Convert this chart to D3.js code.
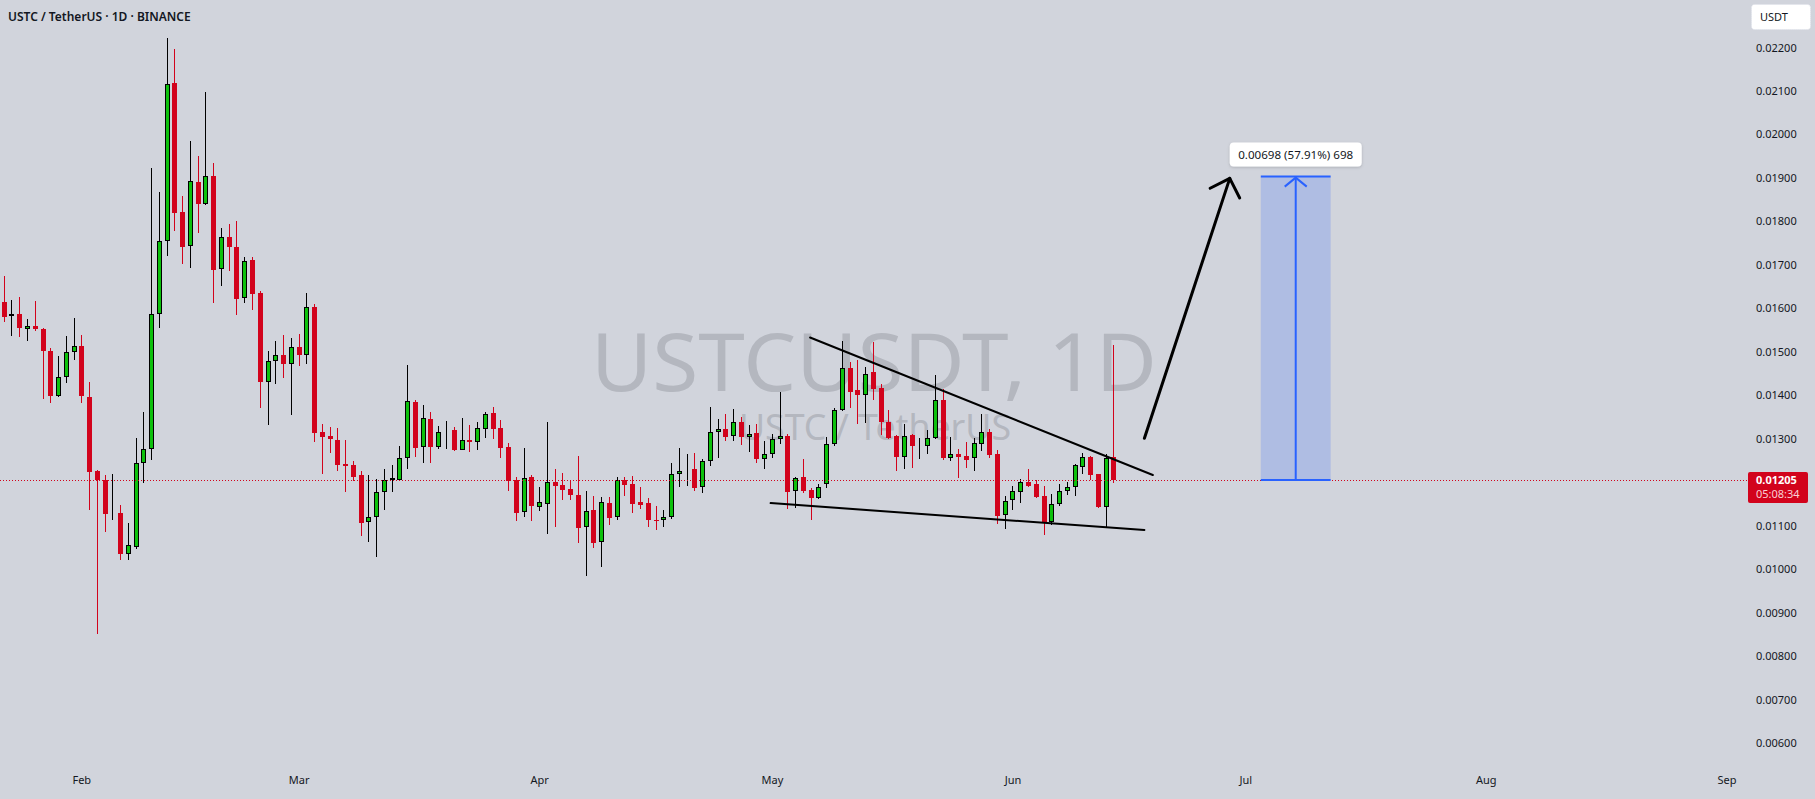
<!DOCTYPE html>
<html><head><meta charset="utf-8">
<script src="https://cdn.jsdelivr.net/npm/d3@7"></script>
<style>html,body{margin:0;padding:0;background:#d1d4dc;overflow:hidden}</style>
</head><body><svg id="c" width="1815" height="799"></svg>
<script>
const dates = ["2025-01-22","2025-01-23","2025-01-24","2025-01-25","2025-01-26","2025-01-27","2025-01-28","2025-01-29","2025-01-30","2025-01-31",
"2025-02-01","2025-02-02","2025-02-03","2025-02-04","2025-02-05","2025-02-06","2025-02-07","2025-02-08","2025-02-09","2025-02-10","2025-02-11","2025-02-12","2025-02-13","2025-02-14","2025-02-15","2025-02-16","2025-02-17","2025-02-18","2025-02-19","2025-02-20","2025-02-21","2025-02-22","2025-02-23","2025-02-24","2025-02-25","2025-02-26","2025-02-27","2025-02-28",
"2025-03-01","2025-03-02","2025-03-03","2025-03-04","2025-03-05","2025-03-06","2025-03-07","2025-03-08","2025-03-09","2025-03-10","2025-03-11","2025-03-12","2025-03-13","2025-03-14","2025-03-15","2025-03-16","2025-03-17","2025-03-18","2025-03-19","2025-03-20","2025-03-21","2025-03-22","2025-03-23","2025-03-24","2025-03-25","2025-03-26","2025-03-27","2025-03-28","2025-03-29","2025-03-30","2025-03-31",
"2025-04-01","2025-04-02","2025-04-03","2025-04-04","2025-04-05","2025-04-06","2025-04-07","2025-04-08","2025-04-09","2025-04-10","2025-04-11","2025-04-12","2025-04-13","2025-04-14","2025-04-15","2025-04-16","2025-04-17","2025-04-18","2025-04-19","2025-04-20","2025-04-21","2025-04-22","2025-04-23","2025-04-24","2025-04-25","2025-04-26","2025-04-27","2025-04-28","2025-04-29","2025-04-30",
"2025-05-01","2025-05-02","2025-05-03","2025-05-04","2025-05-05","2025-05-06","2025-05-07","2025-05-08","2025-05-09","2025-05-10","2025-05-11","2025-05-12","2025-05-13","2025-05-14","2025-05-15","2025-05-16","2025-05-17","2025-05-18","2025-05-19","2025-05-20","2025-05-21","2025-05-22","2025-05-23","2025-05-24","2025-05-25","2025-05-26","2025-05-27","2025-05-28","2025-05-29","2025-05-30","2025-05-31",
"2025-06-01","2025-06-02","2025-06-03","2025-06-04","2025-06-05","2025-06-06","2025-06-07","2025-06-08","2025-06-09","2025-06-10","2025-06-11","2025-06-12","2025-06-13","2025-06-14"];

const open = [0.01615,0.01582,0.01587,0.01552,0.01559,0.01553,0.01502,0.01399,0.01442,0.01499,
0.01514,0.01397,0.01226,0.01205,0.01129,0.01129,0.01036,0.01051,0.01245,0.01276,0.01586,0.01756,0.02118,0.01822,0.01743,0.01890,0.01841,0.01904,0.01690,0.01763,0.01741,0.01623,0.01711,0.01635,0.01430,0.01478,0.01492,0.01472,
0.01512,0.01493,0.01602,0.01315,0.01306,0.01297,0.01243,0.01239,0.01216,0.01108,0.01121,0.01177,0.01206,0.01206,0.01255,0.01384,0.01280,0.01345,0.01282,0.01317,0.01320,0.01275,0.01296,0.01293,0.01323,0.01359,0.01325,0.01281,0.01205,0.01131,0.01211,
0.01144,0.01151,0.01200,0.011935,0.01184,0.011705,0.01096,0.01136,0.01062,0.01152,0.01121,0.01204,0.01196,0.01154,0.01152,0.01114,0.01112,0.01121,0.01218,0.01229,0.01230,0.01190,0.01248,0.01315,0.01322,0.01307,0.01338,0.01305,0.01313,0.01254,
0.01266,0.01299,0.01306,0.01179,0.01211,0.01182,0.01163,0.01195,0.01289,0.01366,0.01462,0.01412,0.01401,0.01453,0.01416,0.01338,0.01306,0.01259,0.013085,0.01285,0.01284,0.01301,0.01389,0.01255,0.01266,0.01260,0.01255,0.01288,0.01315,0.01264,0.01124,
0.01158,0.01177,0.01200,0.01196,0.01168,0.01109,0.01149,0.01179,0.01188,0.01236,0.01259,0.01219,0.01144,0.01258];

const high = [0.01675,0.01619,0.01626,0.01575,0.01617,0.01555,0.01508,0.01491,0.01536,0.01578,
0.01539,0.01431,0.01228,0.01217,0.01219,0.01148,0.01106,0.01301,0.01361,0.01923,0.01867,0.02222,0.02197,0.01858,0.01984,0.01950,0.02097,0.01934,0.01784,0.01793,0.01800,0.01719,0.01718,0.01640,0.01501,0.01524,0.01539,0.01531,
0.01540,0.01635,0.01610,0.01334,0.01327,0.01325,0.01297,0.01249,0.01226,0.01216,0.01207,0.01230,0.01239,0.01283,0.01470,0.01389,0.013775,0.01361,0.01329,0.01341,0.01327,0.01348,0.01331,0.01338,0.01361,0.01373,0.01343,0.01290,0.01212,0.01279,0.01216,
0.01189,0.01338,0.01230,0.01222,0.01205,0.01260,0.01180,0.01168,0.01166,0.01166,0.01212,0.01212,0.01214,0.01189,0.01164,0.01145,0.01136,0.01244,0.01279,0.01265,0.01267,0.01253,0.01372,0.01345,0.01358,0.01368,0.01349,0.01331,0.01333,0.01295,
0.01312,0.01407,0.01312,0.01213,0.01253,0.01187,0.01197,0.01304,0.01370,0.01525,0.01476,0.01480,0.01466,0.01522,0.01427,0.01366,0.01308,0.01335,0.01311,0.01301,0.01320,0.01447,0.01414,0.01303,0.01276,0.01292,0.01302,0.01358,0.01322,0.01274,0.01168,
0.01191,0.01207,0.01230,0.01206,0.01191,0.01173,0.01197,0.01200,0.01243,0.01267,0.01261,0.01220,0.01266,0.01516];

const low = [0.01569,0.01537,0.01535,0.01525,0.01549,0.01392,0.01383,0.01397,0.01429,0.01481,
0.01383,0.01137,0.00850,0.01085,0.01114,0.01021,0.01020,0.01047,0.01199,0.01250,0.01555,0.01720,0.01779,0.01701,0.01692,0.01774,0.01838,0.01613,0.01652,0.01687,0.01585,0.01613,0.01597,0.01371,0.01332,0.01427,0.01440,0.01355,
0.01468,0.01471,0.01293,0.01218,0.01268,0.01226,0.01177,0.01203,0.01076,0.01063,0.01029,0.01137,0.01177,0.01205,0.01231,0.01259,0.01245,0.01245,0.01276,0.01276,0.01271,0.01274,0.01269,0.01274,0.01302,0.01299,0.01256,0.01180,0.01111,0.01119,0.01111,
0.01134,0.01081,0.01098,0.01159,0.01160,0.01061,0.00985,0.01049,0.01006,0.01102,0.01114,0.01169,0.01129,0.01139,0.01097,0.01091,0.01098,0.01116,0.01190,0.01191,0.01180,0.01176,0.01237,0.01256,0.01295,0.01295,0.01286,0.01270,0.01245,0.01231,
0.01256,0.01289,0.01138,0.01140,0.01176,0.01114,0.01161,0.01187,0.01284,0.01363,0.01371,0.01335,0.01337,0.01389,0.01308,0.01300,0.01226,0.01231,0.01233,0.01254,0.01265,0.01299,0.01251,0.01249,0.01210,0.01233,0.01226,0.01272,0.01256,0.01105,0.01093,
0.01137,0.01153,0.01190,0.01163,0.01079,0.01101,0.01146,0.01170,0.01169,0.01220,0.01206,0.01141,0.01094,0.01198];

const close = [0.01581,0.01587,0.01554,0.01559,0.01552,0.01501,0.01399,0.01441,0.01499,0.01514,
0.01399,0.01224,0.01204,0.01128,0.01129,0.01036,0.01055,0.01245,0.01276,0.01586,0.01756,0.02115,0.01820,0.01740,0.01892,0.01841,0.01904,0.01689,0.01765,0.01740,0.01622,0.01708,0.01633,0.01431,0.01478,0.01492,0.01472,0.01512,
0.01493,0.01602,0.01314,0.01305,0.01299,0.01240,0.01238,0.01213,0.01107,0.01121,0.01177,0.01206,0.01210,0.01255,0.01386,0.01279,0.01347,0.01282,0.01315,0.01318,0.01274,0.01296,0.01292,0.01324,0.01356,0.01323,0.01279,0.01203,0.01130,0.01209,0.01146,
0.01154,0.01200,0.01192,0.01183,0.01171,0.01095,0.01133,0.01061,0.01154,0.01118,0.01204,0.01194,0.01151,0.01148,0.01113,0.01112,0.01121,0.01218,0.01225,0.01230,0.01187,0.01248,0.01315,0.01322,0.01305,0.01338,0.01305,0.01312,0.01254,0.01266,
0.01299,0.01306,0.01178,0.01209,0.01180,0.01164,0.01190,0.01287,0.01365,0.01462,0.01408,0.01401,0.01450,0.01415,0.01338,0.01302,0.01259,0.01307,0.01284,0.01286,0.01301,0.01389,0.01256,0.01266,0.01259,0.01251,0.01291,0.01315,0.01263,0.01123,0.01157,
0.01179,0.01200,0.01192,0.01167,0.01108,0.01149,0.01179,0.01188,0.01239,0.01259,0.01217,0.01144,0.01255,0.01205];

const priceTicks = [0.006,0.007,0.008,0.009,0.010,0.011,0.012,0.013,0.014,0.015,0.016,0.017,0.018,0.019,0.020,0.021,0.022];
const monthTicks = ["2025-02-01","2025-03-01","2025-04-01","2025-05-01","2025-06-01","2025-07-01","2025-08-01","2025-09-01"];
const monthLabels = ["Feb","Mar","Apr","May","Jun","Jul","Aug","Sep"];

const lastPrice = 0.01205;
const countdown = "05:08:34";
const title = "USTC / TetherUS · 1D · BINANCE";
const watermark1 = "USTCUSDT, 1D";
const watermark2 = "USTC / TetherUS";
const currency = "USDT";

const upperTrend = [["2025-05-05T22:00Z",0.01533],["2025-06-19T02:00Z",0.012165]];
const lowerTrend = [["2025-04-30T20:00Z",0.01152],["2025-06-18T00:00Z",0.01090]];
const arrowPath = [["2025-06-18T00:00Z",0.01301],["2025-06-29T00:00Z",0.01899]];
const rangeDates = ["2025-07-03","2025-07-12"];
const rangePrices = [0.01205,0.01903];
const rangeLabel = "0.00698 (57.91%) 698";

const UP = "#0dc10d", DOWN = "#d2031c", INK = "#131722";
const FONT = "'Noto Sans', 'Open Sans', sans-serif";

const svg = d3.select("#c");
const W = 1815, H = 799;
const pd = s => new Date(s.length === 10 ? s + "T00:00:00Z" : s);

const xS = d3.scaleUtc().domain([pd("2025-02-01"), pd("2025-09-01")]).range([81.3, 1726.4]);
const yS = d3.scaleLinear().domain([0.006, 0.022]).range([743.05, 47.5]);

svg.append("rect").attr("width", W).attr("height", H).attr("fill", "#d1d4dc");

// watermark
svg.append("text").attr("x", 874).attr("y", 391).attr("text-anchor", "middle")
  .attr("font-family", FONT).attr("font-size", 80).attr("fill", "#b4b7bf")
  .attr("textLength", 566).attr("lengthAdjust", "spacingAndGlyphs").text(watermark1);
svg.append("text").attr("x", 875).attr("y", 440).attr("text-anchor", "middle")
  .attr("font-family", FONT).attr("font-size", 36).attr("fill", "#b4b7bf")
  .attr("textLength", 272).attr("lengthAdjust", "spacingAndGlyphs").text(watermark2);

// candles
const bars = dates.map((d, i) => ({d: pd(d), o: open[i], h: high[i], l: low[i], c: close[i]}));
const g = svg.append("g");
bars.forEach(b => {
  const cx = Math.round(xS(b.d));
  const up = b.c >= b.o;
  const col = up ? UP : DOWN;
  const wickCol = up ? "#000" : DOWN;
  g.append("line").attr("x1", cx + 0.5).attr("x2", cx + 0.5)
    .attr("y1", Math.round(yS(b.h))).attr("y2", Math.round(yS(b.l)))
    .attr("stroke", wickCol).attr("stroke-width", 1);
  const top = Math.round(yS(Math.max(b.o, b.c)));
  const bot = Math.round(yS(Math.min(b.o, b.c)));
  if (up) {
    const hgt = Math.max(bot - top - 1, 0);
    g.append("rect").attr("x", cx - 1.5).attr("y", top + 0.5).attr("width", 4).attr("height", hgt)
      .attr("fill", col).attr("stroke", "#000").attr("stroke-width", 1);
  } else {
    g.append("rect").attr("x", cx - 2).attr("y", top).attr("width", 5).attr("height", Math.max(bot - top, 1))
      .attr("fill", col);
  }
});

// last price dotted line
const ly = Math.round(yS(lastPrice)) + 0.5;
svg.append("line").attr("x1", 0).attr("x2", 1748).attr("y1", ly).attr("y2", ly)
  .attr("stroke", DOWN).attr("stroke-width", 1).attr("stroke-dasharray", "1,2");

// trend lines
const lineGen = d3.line().x(p => xS(pd(p[0]))).y(p => yS(p[1]));
[upperTrend, lowerTrend].forEach(t => {
  svg.append("path").attr("d", lineGen(t)).attr("stroke", "#000").attr("stroke-width", 2)
    .attr("fill", "none").attr("stroke-linecap", "round");
});

// arrow
svg.append("path").attr("d", lineGen(arrowPath)).attr("stroke", "#000").attr("stroke-width", 3)
  .attr("fill", "none").attr("stroke-linecap", "round");
{
  const x0 = xS(pd(arrowPath[0][0])), y0 = yS(arrowPath[0][1]);
  const x1 = xS(pd(arrowPath[1][0])), y1 = yS(arrowPath[1][1]);
  const ang = Math.atan2(y0 - y1, x0 - x1);
  const L = 22, a = Math.PI / 4;
  const p1 = [x1 + L * Math.cos(ang + a), y1 + L * Math.sin(ang + a)];
  const p2 = [x1 + L * Math.cos(ang - a), y1 + L * Math.sin(ang - a)];
  svg.append("path").attr("d", `M${p1[0]},${p1[1]}L${x1},${y1}L${p2[0]},${p2[1]}`)
    .attr("stroke", "#000").attr("stroke-width", 3).attr("fill", "none")
    .attr("stroke-linecap", "round").attr("stroke-linejoin", "round");
}

// price range tool
{
  const rx0 = xS(pd(rangeDates[0])), rx1 = xS(pd(rangeDates[1]));
  const ry0 = yS(rangePrices[0]), ry1 = yS(rangePrices[1]);
  const BLUE = "#2962ff";
  svg.append("rect").attr("x", rx0).attr("y", ry1).attr("width", rx1 - rx0).attr("height", ry0 - ry1)
    .attr("fill", BLUE).attr("fill-opacity", 0.2);
  svg.append("line").attr("x1", rx0).attr("x2", rx1).attr("y1", ry1).attr("y2", ry1).attr("stroke", BLUE).attr("stroke-width", 2);
  svg.append("line").attr("x1", rx0).attr("x2", rx1).attr("y1", ry0).attr("y2", ry0).attr("stroke", BLUE).attr("stroke-width", 2);
  const mx = (rx0 + rx1) / 2;
  svg.append("line").attr("x1", mx).attr("x2", mx).attr("y1", ry0).attr("y2", ry1 + 1).attr("stroke", BLUE).attr("stroke-width", 2);
  svg.append("path").attr("d", `M${mx - 11},${ry1 + 10}L${mx},${ry1 + 1}L${mx + 11},${ry1 + 10}`)
    .attr("stroke", BLUE).attr("stroke-width", 2).attr("fill", "none");
  const defs = svg.append("defs");
  const f = defs.append("filter").attr("id", "sh").attr("x", "-20%").attr("y", "-40%").attr("width", "140%").attr("height", "180%");
  f.append("feDropShadow").attr("dx", 0).attr("dy", 1).attr("stdDeviation", 1.5).attr("flood-color", "#000").attr("flood-opacity", 0.18);
  const bw = 132, bh = 24;
  svg.append("rect").attr("x", mx - bw / 2).attr("y", ry1 - 10 - bh).attr("width", bw).attr("height", bh)
    .attr("rx", 4).attr("fill", "#fff").attr("filter", "url(#sh)");
  svg.append("text").attr("x", mx).attr("y", ry1 - 10 - bh / 2).attr("dy", "0.35em").attr("text-anchor", "middle")
    .attr("font-family", FONT).attr("font-size", 11.6).attr("fill", INK).text(rangeLabel);
}

// price axis
const yAx = svg.append("g").attr("transform", "translate(1756,0)")
  .call(d3.axisRight(yS).tickValues(priceTicks).tickFormat(d3.format(".5f")).tickSize(0).tickPadding(0));
yAx.select(".domain").remove();
yAx.selectAll("text").attr("font-family", FONT).attr("font-size", 11).attr("fill", INK);

// time axis
const xAx = svg.append("g").attr("transform", "translate(0,776)")
  .call(d3.axisBottom(xS).tickValues(monthTicks.map(pd)).tickFormat((d, i) => monthLabels[i]).tickSize(0).tickPadding(0));
xAx.select(".domain").remove();
xAx.selectAll("text").attr("font-family", FONT).attr("font-size", 11).attr("fill", INK);

// current price label
svg.append("rect").attr("x", 1748).attr("y", 472).attr("width", 60).attr("height", 31).attr("rx", 2).attr("fill", DOWN);
svg.append("text").attr("x", 1756).attr("y", 484).attr("font-family", FONT).attr("font-size", 11).attr("font-weight", 700)
  .attr("fill", "#fff").text(d3.format(".5f")(lastPrice));
svg.append("text").attr("x", 1756).attr("y", 498).attr("font-family", FONT).attr("font-size", 11)
  .attr("fill", "#f9d0d4").text(countdown);

// currency box
svg.append("rect").attr("x", 1751.5).attr("y", 4.5).attr("width", 59).attr("height", 25).attr("rx", 3)
  .attr("fill", "#fff").attr("stroke", "#e0e3eb").attr("stroke-dasharray", "1,1");
svg.append("text").attr("x", 1760).attr("y", 17).attr("dy", "0.35em").attr("font-family", FONT).attr("font-size", 11)
  .attr("fill", INK).text(currency);

// title
svg.append("text").attr("x", 8).attr("y", 21).attr("font-family", FONT).attr("font-size", 12).attr("font-weight", 600)
  .attr("fill", INK).text(title);
</script></body></html>
